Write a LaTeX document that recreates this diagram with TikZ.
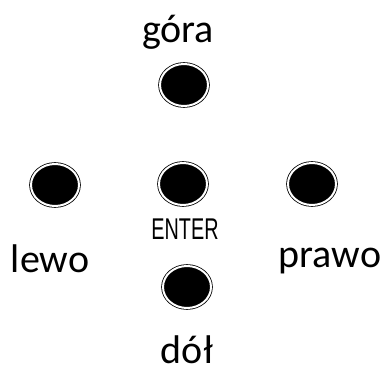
\documentclass[tikz,border=0pt]{standalone}
\usepackage{fontspec}
\setmainfont{Carlito}
\newfontfamily\narrowfont[FakeStretch=0.66]{Liberation Sans}
\usetikzlibrary{shapes.geometric}
\tikzset{
  button/.style={ellipse, draw=black, fill=black, line width=0.8pt,
    double=white, double distance=2pt, inner sep=0pt,
    minimum width=48pt, minimum height=42pt},
  caption/.style={anchor=base, inner sep=0pt, font=\fontsize{40}{40}\selectfont}
}
\begin{document}
\begin{tikzpicture}[x=1pt,y=-1pt]
            \useasboundingbox (0,0) rectangle (388,374);

            % Define nodes
            \node[button] (gora) at (184,85) {};
            \node[button] (lewo) at (55,185) {};
            \node[button] (enter) at (183,184) {};
            \node[button] (prawo) at (312,184) {};
            \node[button] (dol) at (187,287) {};

            % Labels
            \node[caption] (gora text) at (178,43) {góra};
            \node[caption] (lewo text) at (50,272) {lewo};
            \node[caption] (prawo text) at (330,267) {prawo};
            \node[caption] (dol text) at (187,363) {dół};
            \node[anchor=base, inner sep=0pt, font=\narrowfont\fontsize{30}{30}\selectfont] (enter text) at (185,239) {ENTER};

        \end{tikzpicture}
\end{document}
